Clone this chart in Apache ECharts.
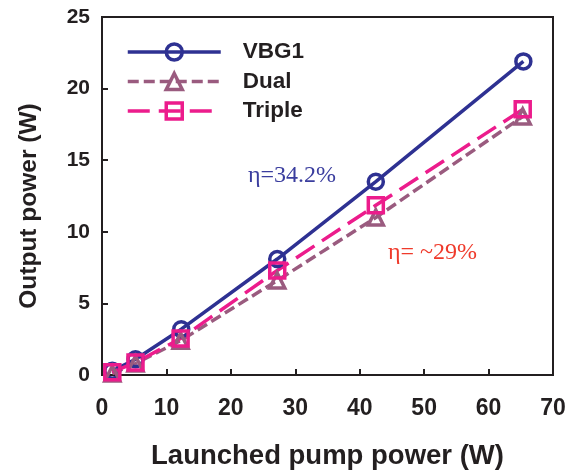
<!DOCTYPE html>
<html>
<head>
<meta charset="utf-8">
<script src="https://cdn.jsdelivr.net/npm/echarts@6/dist/echarts.min.js"></script>
<style>
html,body{margin:0;padding:0;background:#fff;}
#chart{width:578px;height:475px;}
</style>
</head>
<body>
<div id="chart"></div>
<script>
const seriesNames = ['VBG1', 'Dual', 'Triple'];
const vbg1X = [1.6, 5.2, 12.3, 27.2, 42.5, 65.4];
const vbg1Y = [0.3, 1.1, 3.2, 8.1, 13.5, 21.9];
const dualX = [1.6, 5.2, 12.2, 27.2, 42.5, 65.3];
const dualY = [0.1, 0.8, 2.4, 6.6, 11.0, 18.05];
const tripleX = [1.6, 5.2, 12.2, 27.2, 42.5, 65.3];
const tripleY = [0.2, 0.87, 2.55, 7.3, 11.85, 18.55];
const annotations = ['η=34.2%', 'η= ~29%'];

function pairs(xs, ys) { return xs.map((x, i) => [x, ys[i]]); }

const axisColor = '#231f20';
const chart = echarts.init(document.getElementById('chart'));
chart.setOption({
  backgroundColor: '#ffffff',
  animation: false,
  grid: {
    left: 102, right: 25, top: 17, bottom: 98,
    show: true, borderColor: axisColor, borderWidth: 2, backgroundColor: 'transparent'
  },
  legend: {
    data: seriesNames,
    orient: 'vertical',
    left: 121, top: 35.5,
    itemWidth: 93, itemHeight: 20, itemGap: 6.5,
    lineStyle: { width: 3.5 },
    itemStyle: { borderWidth: 3.5 },
    textStyle: {
      fontFamily: 'Liberation Sans, Arial, sans-serif',
      fontWeight: 'bold', fontSize: 22.5, color: axisColor,
      padding: [0, 0, 0, 17]
    }
  },
  xAxis: {
    type: 'value', min: 0, max: 70, interval: 10,
    name: 'Launched pump power (W)', nameLocation: 'middle', nameGap: 67,
    nameTextStyle: { fontFamily: 'Liberation Sans, Arial, sans-serif', fontWeight: 'bold', fontSize: 27.5, color: axisColor },
    axisLine: { lineStyle: { color: axisColor, width: 2 } },
    axisTick: { inside: true, length: 6, lineStyle: { color: axisColor, width: 2 } },
    axisLabel: { fontFamily: 'Liberation Sans, Arial, sans-serif', fontWeight: 'bold', fontSize: 23, color: axisColor, margin: 22 },
    splitLine: { show: false }
  },
  yAxis: {
    type: 'value', min: 0, max: 25, interval: 5,
    name: 'Output power (W)', nameLocation: 'middle', nameGap: 60,
    nameTextStyle: { fontFamily: 'Liberation Sans, Arial, sans-serif', fontWeight: 'bold', fontSize: 24.5, color: axisColor, padding: [0, 20, 0, 0] },
    axisLine: { lineStyle: { color: axisColor, width: 2 } },
    axisTick: { inside: true, length: 6, lineStyle: { color: axisColor, width: 2 } },
    axisLabel: { fontFamily: 'Liberation Sans, Arial, sans-serif', fontWeight: 'bold', fontSize: 21, color: axisColor, margin: 12 },
    splitLine: { show: false }
  },
  series: [
    {
      name: seriesNames[0], type: 'line', data: pairs(vbg1X, vbg1Y),
      symbol: 'circle', symbolSize: 15,
      lineStyle: { color: '#2e3192', width: 3.5, type: 'solid' },
      itemStyle: { color: 'transparent', borderColor: '#2e3192', borderWidth: 3.5 }
    },
    {
      name: seriesNames[1], type: 'line', data: pairs(dualX, dualY),
      symbol: 'triangle', symbolSize: 15,
      lineStyle: { color: '#9a5b7f', width: 3.5, type: [11, 5] },
      itemStyle: { color: 'transparent', borderColor: '#9a5b7f', borderWidth: 3.5 }
    },
    {
      name: seriesNames[2], type: 'line', data: pairs(tripleX, tripleY),
      symbol: 'rect', symbolSize: 15,
      lineStyle: { color: '#ec1c8c', width: 3.5, type: [22, 9] },
      itemStyle: { color: 'transparent', borderColor: '#ec1c8c', borderWidth: 3.5 }
    }
  ],
  graphic: [
    { type: 'text', left: 248, top: 164, style: { text: annotations[0], fill: '#3a3d9e', font: '24px "Liberation Serif", "Times New Roman", serif' } },
    { type: 'text', left: 388, top: 241, style: { text: annotations[1], fill: '#ef3a2b', font: '24px "Liberation Serif", "Times New Roman", serif' } }
  ]
});
</script>
</body>
</html>
